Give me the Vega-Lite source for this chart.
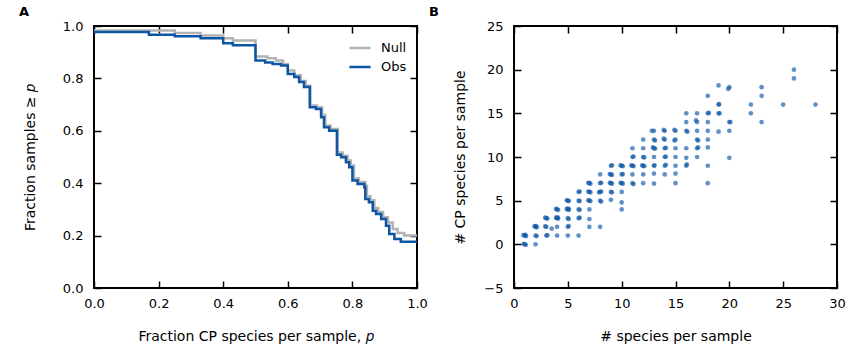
{
  "$schema": "https://vega.github.io/schema/vega-lite/v6.json",
  "padding": {"left": 18, "top": 5, "right": 5, "bottom": 5},
  "background": "white",
  "config": {
    "font": "DejaVu Sans",
    "view": {"stroke": "#000", "strokeWidth": 2},
    "axis": {
      "domain": false,
      "grid": false,
      "labelFlush": false,
      "tickColor": "#000",
      "tickWidth": 1.5,
      "tickSize": -7,
      "labelFontSize": 13,
      "labelColor": "#000",
      "titleFontSize": 14,
      "titleFontWeight": "normal",
      "titleColor": "#000"
    },
    "axisX": {"labelPadding": 16},
    "axisY": {"labelPadding": 18},
    "title": {"fontSize": 13, "fontWeight": "bold", "anchor": "start", "color": "#000", "frame": "group"}
  },
  "datasets": {
    "curves": [
      {"p": 0, "frac": 0.983, "series": "Null"},
      {"p": 0.25, "frac": 0.973, "series": "Null"},
      {"p": 0.33, "frac": 0.964, "series": "Null"},
      {"p": 0.40, "frac": 0.953, "series": "Null"},
      {"p": 0.43, "frac": 0.945, "series": "Null"},
      {"p": 0.50, "frac": 0.884, "series": "Null"},
      {"p": 0.537, "frac": 0.877, "series": "Null"},
      {"p": 0.563, "frac": 0.868, "series": "Null"},
      {"p": 0.585, "frac": 0.855, "series": "Null"},
      {"p": 0.60, "frac": 0.83, "series": "Null"},
      {"p": 0.62, "frac": 0.812, "series": "Null"},
      {"p": 0.64, "frac": 0.79, "series": "Null"},
      {"p": 0.655, "frac": 0.772, "series": "Null"},
      {"p": 0.67, "frac": 0.697, "series": "Null"},
      {"p": 0.69, "frac": 0.69, "series": "Null"},
      {"p": 0.706, "frac": 0.66, "series": "Null"},
      {"p": 0.716, "frac": 0.62, "series": "Null"},
      {"p": 0.732, "frac": 0.607, "series": "Null"},
      {"p": 0.755, "frac": 0.517, "series": "Null"},
      {"p": 0.77, "frac": 0.505, "series": "Null"},
      {"p": 0.785, "frac": 0.487, "series": "Null"},
      {"p": 0.795, "frac": 0.468, "series": "Null"},
      {"p": 0.805, "frac": 0.418, "series": "Null"},
      {"p": 0.82, "frac": 0.405, "series": "Null"},
      {"p": 0.84, "frac": 0.39, "series": "Null"},
      {"p": 0.845, "frac": 0.35, "series": "Null"},
      {"p": 0.856, "frac": 0.335, "series": "Null"},
      {"p": 0.868, "frac": 0.305, "series": "Null"},
      {"p": 0.88, "frac": 0.29, "series": "Null"},
      {"p": 0.895, "frac": 0.27, "series": "Null"},
      {"p": 0.91, "frac": 0.25, "series": "Null"},
      {"p": 0.925, "frac": 0.225, "series": "Null"},
      {"p": 0.94, "frac": 0.21, "series": "Null"},
      {"p": 0.96, "frac": 0.2, "series": "Null"},
      {"p": 1.0, "frac": 0.2, "series": "Null"},
      {"p": 0, "frac": 0.977, "series": "Obs"},
      {"p": 0.17, "frac": 0.967, "series": "Obs"},
      {"p": 0.25, "frac": 0.961, "series": "Obs"},
      {"p": 0.33, "frac": 0.953, "series": "Obs"},
      {"p": 0.40, "frac": 0.934, "series": "Obs"},
      {"p": 0.43, "frac": 0.927, "series": "Obs"},
      {"p": 0.50, "frac": 0.868, "series": "Obs"},
      {"p": 0.53, "frac": 0.861, "series": "Obs"},
      {"p": 0.553, "frac": 0.855, "series": "Obs"},
      {"p": 0.579, "frac": 0.849, "series": "Obs"},
      {"p": 0.60, "frac": 0.817, "series": "Obs"},
      {"p": 0.62, "frac": 0.805, "series": "Obs"},
      {"p": 0.635, "frac": 0.786, "series": "Obs"},
      {"p": 0.65, "frac": 0.767, "series": "Obs"},
      {"p": 0.668, "frac": 0.69, "series": "Obs"},
      {"p": 0.687, "frac": 0.683, "series": "Obs"},
      {"p": 0.703, "frac": 0.652, "series": "Obs"},
      {"p": 0.712, "frac": 0.614, "series": "Obs"},
      {"p": 0.728, "frac": 0.60, "series": "Obs"},
      {"p": 0.752, "frac": 0.509, "series": "Obs"},
      {"p": 0.765, "frac": 0.499, "series": "Obs"},
      {"p": 0.78, "frac": 0.48, "series": "Obs"},
      {"p": 0.79, "frac": 0.461, "series": "Obs"},
      {"p": 0.80, "frac": 0.41, "series": "Obs"},
      {"p": 0.816, "frac": 0.397, "series": "Obs"},
      {"p": 0.837, "frac": 0.384, "series": "Obs"},
      {"p": 0.84, "frac": 0.34, "series": "Obs"},
      {"p": 0.851, "frac": 0.327, "series": "Obs"},
      {"p": 0.863, "frac": 0.295, "series": "Obs"},
      {"p": 0.873, "frac": 0.282, "series": "Obs"},
      {"p": 0.889, "frac": 0.263, "series": "Obs"},
      {"p": 0.904, "frac": 0.238, "series": "Obs"},
      {"p": 0.914, "frac": 0.206, "series": "Obs"},
      {"p": 0.93, "frac": 0.187, "series": "Obs"},
      {"p": 0.95, "frac": 0.177, "series": "Obs"},
      {"p": 1.0, "frac": 0.177, "series": "Obs"}
    ],
    "scatter": [
      {"n": 1, "cp": 0}, {"n": 0.9, "cp": 0.05}, {"n": 1.1, "cp": -0.05}, {"n": 2, "cp": 0},
      {"n": 1, "cp": 1}, {"n": 0.88, "cp": 1.05}, {"n": 1.12, "cp": 0.95}, {"n": 1.05, "cp": 1.1},
      {"n": 2, "cp": 1}, {"n": 2.1, "cp": 0.95}, {"n": 3, "cp": 1}, {"n": 3.1, "cp": 1.05},
      {"n": 4, "cp": 1}, {"n": 5, "cp": 1}, {"n": 6, "cp": 1},
      {"n": 2, "cp": 2}, {"n": 1.9, "cp": 2.08}, {"n": 2.12, "cp": 1.95}, {"n": 2.05, "cp": 2.1},
      {"n": 3, "cp": 2}, {"n": 2.9, "cp": 2.05}, {"n": 3.5, "cp": 1.8}, {"n": 4, "cp": 2},
      {"n": 5, "cp": 2}, {"n": 5.08, "cp": 2.1}, {"n": 7, "cp": 2}, {"n": 8, "cp": 2},
      {"n": 3, "cp": 3}, {"n": 2.9, "cp": 3.05}, {"n": 3.1, "cp": 2.95},
      {"n": 4, "cp": 3}, {"n": 3.9, "cp": 3.05}, {"n": 4.1, "cp": 2.95}, {"n": 4.05, "cp": 3.1},
      {"n": 5, "cp": 3}, {"n": 5.08, "cp": 2.9}, {"n": 6, "cp": 3}, {"n": 6.1, "cp": 3.05}, {"n": 7, "cp": 2.9},
      {"n": 4, "cp": 4}, {"n": 3.9, "cp": 4.05}, {"n": 4.1, "cp": 3.95},
      {"n": 5, "cp": 4}, {"n": 4.9, "cp": 4.05}, {"n": 5.1, "cp": 3.95}, {"n": 5.05, "cp": 4.1},
      {"n": 6, "cp": 4}, {"n": 6.1, "cp": 3.95}, {"n": 7, "cp": 4}, {"n": 10, "cp": 4},
      {"n": 5, "cp": 5}, {"n": 4.9, "cp": 5.05}, {"n": 5.1, "cp": 4.95},
      {"n": 6, "cp": 5}, {"n": 6.1, "cp": 4.95}, {"n": 7, "cp": 5}, {"n": 6.9, "cp": 5.05}, {"n": 7.1, "cp": 4.95},
      {"n": 8, "cp": 5}, {"n": 8.1, "cp": 4.9}, {"n": 9, "cp": 5.1}, {"n": 10, "cp": 4.8},
      {"n": 6, "cp": 6}, {"n": 6.1, "cp": 6.05}, {"n": 7, "cp": 6}, {"n": 6.9, "cp": 6.05}, {"n": 7.1, "cp": 5.95},
      {"n": 8, "cp": 6}, {"n": 7.9, "cp": 5.95}, {"n": 8.1, "cp": 6.05}, {"n": 9, "cp": 6}, {"n": 9.1, "cp": 5.95}, {"n": 10, "cp": 6},
      {"n": 7, "cp": 7}, {"n": 6.9, "cp": 7.05}, {"n": 7.1, "cp": 6.95}, {"n": 8, "cp": 7}, {"n": 8.1, "cp": 7.05},
      {"n": 9, "cp": 7}, {"n": 8.9, "cp": 7.05}, {"n": 9.1, "cp": 6.95},
      {"n": 10, "cp": 7}, {"n": 9.9, "cp": 7.05}, {"n": 10.1, "cp": 6.95},
      {"n": 11, "cp": 7}, {"n": 11.1, "cp": 6.9}, {"n": 12, "cp": 7}, {"n": 13, "cp": 6.95}, {"n": 15, "cp": 7}, {"n": 18, "cp": 7},
      {"n": 8, "cp": 8}, {"n": 9, "cp": 8}, {"n": 8.9, "cp": 8.05}, {"n": 9.1, "cp": 7.95},
      {"n": 10, "cp": 8}, {"n": 10.1, "cp": 8.05}, {"n": 11, "cp": 8}, {"n": 12, "cp": 8}, {"n": 13, "cp": 8.1}, {"n": 14, "cp": 8}, {"n": 15, "cp": 8.1},
      {"n": 9, "cp": 9}, {"n": 9.1, "cp": 9.05}, {"n": 10, "cp": 9}, {"n": 9.9, "cp": 9.05}, {"n": 10.1, "cp": 8.95},
      {"n": 11, "cp": 9}, {"n": 10.9, "cp": 9.05}, {"n": 11.1, "cp": 8.95},
      {"n": 12, "cp": 9}, {"n": 11.9, "cp": 9.05}, {"n": 12.1, "cp": 8.95},
      {"n": 13, "cp": 9}, {"n": 13.05, "cp": 9.05}, {"n": 14, "cp": 9}, {"n": 14.1, "cp": 9.1},
      {"n": 15, "cp": 9}, {"n": 16, "cp": 9}, {"n": 16.05, "cp": 9.15}, {"n": 18, "cp": 9},
      {"n": 11, "cp": 10}, {"n": 11.1, "cp": 10.05}, {"n": 12, "cp": 10}, {"n": 12.1, "cp": 9.95}, {"n": 13, "cp": 10},
      {"n": 14, "cp": 10}, {"n": 14.1, "cp": 10.05}, {"n": 15, "cp": 10}, {"n": 16, "cp": 9.9}, {"n": 17, "cp": 10}, {"n": 20, "cp": 9.9},
      {"n": 11, "cp": 11}, {"n": 12, "cp": 11}, {"n": 13, "cp": 11}, {"n": 12.9, "cp": 11.1}, {"n": 13.1, "cp": 10.95},
      {"n": 14, "cp": 11}, {"n": 14.1, "cp": 11.05}, {"n": 15, "cp": 11}, {"n": 16, "cp": 11}, {"n": 17, "cp": 11}, {"n": 17.1, "cp": 11.1}, {"n": 18, "cp": 11.1},
      {"n": 12, "cp": 12}, {"n": 13, "cp": 12}, {"n": 13.1, "cp": 11.9}, {"n": 14, "cp": 12}, {"n": 13.9, "cp": 12.1},
      {"n": 15, "cp": 12}, {"n": 14.9, "cp": 11.9}, {"n": 17, "cp": 12}, {"n": 17.1, "cp": 11.9}, {"n": 18, "cp": 12},
      {"n": 13, "cp": 13}, {"n": 12.8, "cp": 13}, {"n": 14, "cp": 13}, {"n": 13.9, "cp": 13.1},
      {"n": 15, "cp": 13}, {"n": 14.9, "cp": 13.1}, {"n": 16, "cp": 13}, {"n": 16.1, "cp": 12.9},
      {"n": 17, "cp": 13}, {"n": 18, "cp": 13}, {"n": 19, "cp": 12.9}, {"n": 20, "cp": 13},
      {"n": 16, "cp": 14}, {"n": 17, "cp": 14}, {"n": 16.9, "cp": 14.2}, {"n": 18, "cp": 14}, {"n": 20, "cp": 14}, {"n": 20.1, "cp": 14}, {"n": 23, "cp": 14},
      {"n": 16, "cp": 15}, {"n": 17, "cp": 15}, {"n": 18, "cp": 15}, {"n": 18.1, "cp": 15.05}, {"n": 19, "cp": 15}, {"n": 19.1, "cp": 15}, {"n": 22, "cp": 15},
      {"n": 19, "cp": 16}, {"n": 19.05, "cp": 16.05}, {"n": 22, "cp": 16}, {"n": 25, "cp": 16}, {"n": 28, "cp": 16},
      {"n": 18, "cp": 17}, {"n": 23, "cp": 17},
      {"n": 19, "cp": 18.2}, {"n": 20, "cp": 18}, {"n": 19.9, "cp": 17.8}, {"n": 23, "cp": 18},
      {"n": 26, "cp": 19}, {"n": 26, "cp": 20}
    ]
  },
  "hconcat": [
    {
      "width": 323,
      "height": 262,
      "title": {"text": "A", "dx": -75, "offset": 1},
      "data": {"name": "curves"},
      "layer": [
        {
          "mark": {"type": "line", "interpolate": "step-after", "strokeWidth": 2.5},
          "encoding": {
            "x": {"field": "p", "type": "quantitative", "scale": {"domain": [0, 1], "nice": false},
              "axis": {"values": [0, 0.2, 0.4, 0.6, 0.8, 1.0], "format": ".1f", "title": "Fraction CP species per sample, 𝑝", "titlePadding": 19}},
            "y": {"field": "frac", "type": "quantitative", "scale": {"domain": [0, 1], "nice": false},
              "axis": {"values": [0, 0.2, 0.4, 0.6, 0.8, 1.0], "format": ".1f", "title": "Fraction samples ≥ 𝑝", "titlePadding": 25}},
            "color": {"field": "series", "type": "nominal",
              "scale": {"domain": ["Null", "Obs"], "range": ["#b3b3b3", "#0d56a6"]},
              "legend": {"title": null, "orient": "top-right", "offset": 10, "symbolType": "stroke", "symbolSize": 450, "symbolStrokeWidth": 2.5, "labelFontSize": 13, "rowPadding": 0, "labelOffset": 9}}
          }
        },
        {
          "mark": {"type": "line", "opacity": 0},
          "encoding": {
            "x": {"field": "p", "type": "quantitative", "axis": {"orient": "top", "values": [0, 0.2, 0.4, 0.6, 0.8, 1.0], "labels": false, "title": null}},
            "y": {"field": "frac", "type": "quantitative", "axis": {"orient": "right", "values": [0, 0.2, 0.4, 0.6, 0.8, 1.0], "labels": false, "title": null}}
          }
        }
      ],
      "resolve": {"axis": {"x": "independent", "y": "independent"}}
    },
    {
      "width": 323,
      "height": 262,
      "title": {"text": "B", "dx": -85, "offset": 1},
      "data": {"name": "scatter"},
      "layer": [
        {
          "mark": {"type": "circle", "size": 22, "color": "#0d56a6", "opacity": 0.65},
          "encoding": {
            "x": {"field": "n", "type": "quantitative", "scale": {"domain": [0, 30], "nice": false},
              "axis": {"values": [0, 5, 10, 15, 20, 25, 30], "title": "# species per sample", "titlePadding": 19}},
            "y": {"field": "cp", "type": "quantitative", "scale": {"domain": [-5, 25], "nice": false},
              "axis": {"values": [-5, 0, 5, 10, 15, 20, 25], "title": "# CP species per sample", "titlePadding": 16}}
          }
        },
        {
          "mark": {"type": "circle", "opacity": 0},
          "encoding": {
            "x": {"field": "n", "type": "quantitative", "axis": {"orient": "top", "values": [0, 5, 10, 15, 20, 25, 30], "labels": false, "title": null}},
            "y": {"field": "cp", "type": "quantitative", "axis": {"orient": "right", "values": [-5, 0, 5, 10, 15, 20, 25], "labels": false, "title": null}}
          }
        }
      ],
      "resolve": {"axis": {"x": "independent", "y": "independent"}}
    }
  ],
  "resolve": {"legend": {"color": "independent"}},
  "spacing": 97,
  "bounds": "flush"
}
